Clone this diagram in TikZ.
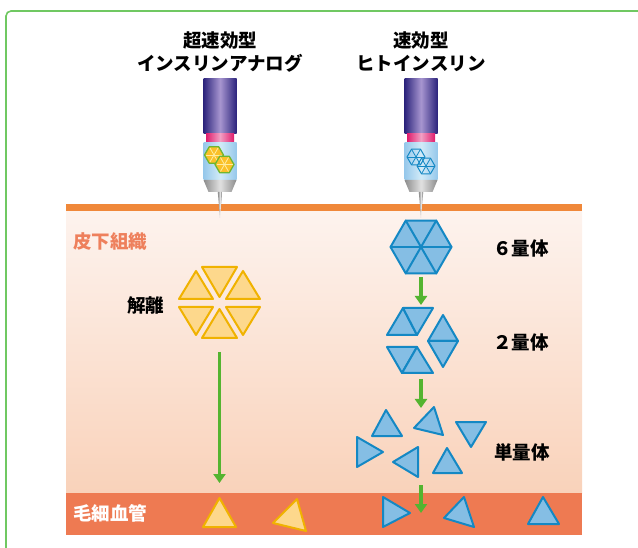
\documentclass[tikz,border=0pt]{standalone}
\usepackage{fontspec}
\newfontfamily\jp{Noto Sans CJK JP}
\usetikzlibrary{arrows.meta,calc}

\definecolor{frameg}{RGB}{112,200,98}
\definecolor{skintop}{RGB}{253,243,238}
\definecolor{skinbot}{RGB}{249,210,186}
\definecolor{skinline}{RGB}{240,136,58}
\definecolor{capill}{RGB}{238,122,82}
\definecolor{tissuetxt}{RGB}{238,128,92}
\definecolor{bluefill}{RGB}{133,190,228}
\definecolor{blueline}{RGB}{20,136,196}
\definecolor{yelfill}{RGB}{253,216,140}
\definecolor{yelline}{RGB}{240,178,0}
\definecolor{arrowg}{RGB}{84,180,48}
\definecolor{pendark}{RGB}{44,36,124}
\definecolor{penlight}{RGB}{168,150,208}
\definecolor{ringdark}{RGB}{224,28,108}
\definecolor{ringlight}{RGB}{242,160,196}
\definecolor{cartdark}{RGB}{150,200,235}
\definecolor{cartlight}{RGB}{210,235,248}
\definecolor{conedark}{RGB}{140,140,140}
\definecolor{conelight}{RGB}{225,225,225}
\definecolor{hexyel}{RGB}{250,192,40}
\definecolor{hexgreen}{RGB}{110,182,50}
\definecolor{hexspoke}{RGB}{255,236,160}

\tikzset{
  labeltext/.style={font=\jp\bfseries\fontsize{18.5}{23}\selectfont, inner sep=0pt},
  bluetri/.style={fill=bluefill, draw=blueline, line width=2pt, line join=round},
  yeltri/.style={fill=yelfill, draw=yelline, line width=2pt, line join=round},
  flow/.style={draw=arrowg, line width=3.6pt, -{Triangle[width=12pt,length=9pt]}},
  pen/.pic={
    % pen body
    \shade[left color=pendark, right color=pendark, middle color=penlight]
      (-16.5,79) rectangle (16.5,134);
    % coloured ring
    \shade[left color=ringdark, right color=ringdark, middle color=ringlight]
      (-14,134) rectangle (14,143);
    % cartridge
    \shade[left color=cartdark, right color=cartdark, middle color=cartlight]
      (-16.5,143) rectangle (16.5,180);
    % cone and needle
    \shade[left color=conedark, right color=conedark, middle color=conelight]
      (-16.5,180) -- (16.5,180) -- (11.5,192) -- (-11.5,192) -- cycle;
    \shade[left color=conedark, right color=conedark!70!black, middle color=conelight]
      (-2.2,192) -- (2.2,192) -- (0,218) -- cycle;
  }
}

\begin{document}
\begin{tikzpicture}[x=1pt,y=-1pt]
\path[use as bounding box] (0,0) rectangle (638,548);

% outer frame
\draw[frameg, line width=1.6pt, rounded corners=5pt] (6,548) -- (6,11) -- (638,11);

% subcutaneous tissue, skin surface and capillary
\shade[top color=skintop, bottom color=skinbot] (66,211) rectangle (582,493);
\fill[skinline] (66,204) rectangle (582,211);
\fill[capill] (66,493) rectangle (582,535);

% pens
\pic at (220,0) {pen};
\pic at (421,0) {pen};

% hexamers inside the left cartridge
\foreach \cx/\cy in {214/155, 224.5/164.5}{
  \filldraw[fill=hexyel, draw=hexgreen, line width=1.3pt, line join=round]
    (\cx+9.5,\cy) \foreach \a in {60,120,...,300}{ -- ++(\a+60:9.5)} -- cycle;
  \foreach \a in {0,60,...,300}{
    \draw[hexspoke, line width=0.8pt] (\cx,\cy) -- ++(\a:8);
  }
}
% hexamers inside the right cartridge
\foreach \cx/\cy in {416/157, 426/166}{
  \draw[blueline, line width=1pt, line join=round]
    (\cx+9,\cy) \foreach \a in {60,120,...,300}{ -- ++(\a+60:9)} -- cycle;
  \foreach \a in {0,60,...,300}{
    \draw[blueline, line width=0.8pt] (\cx,\cy) -- ++(\a:9);
  }
}

% titles
\node[labeltext, align=center] (titleA) at (220,52) {超速効型\\インスリンアナログ};
\node[labeltext, align=center] (titleB) at (421,52) {速効型\\ヒトインスリン};

% region labels
\node[labeltext, text=tissuetxt, anchor=west] (tissue) at (73,242) {皮下組織};
\node[labeltext, text=white, anchor=west] (vessel) at (73,513) {毛細血管};
\node[labeltext, anchor=west] (dissoc) at (127,305) {解離};
\node[labeltext, anchor=west] (hexa) at (493,248) {６量体};
\node[labeltext, anchor=west] (dimer) at (493,342) {２量体};
\node[labeltext, anchor=west] (mono) at (494,452) {単量体};

% dissociated analogue hexamer
\filldraw[yeltri] (202,267) -- (237,267) -- (219.5,297) -- cycle;
\filldraw[yeltri] (179,299) -- (196,271) -- (213,299) -- cycle;
\filldraw[yeltri] (226,299) -- (243,271) -- (260,299) -- cycle;
\filldraw[yeltri] (179,307) -- (213,307) -- (196,335) -- cycle;
\filldraw[yeltri] (226,307) -- (260,307) -- (243,335) -- cycle;
\filldraw[yeltri] (202,338) -- (219.5,309) -- (237,338) -- cycle;

% analogue monomers in the capillary
\filldraw[yeltri] (203,527) -- (219.5,498) -- (236,527) -- cycle;
\filldraw[yeltri] (273,523) -- (297,499) -- (306,531) -- cycle;

% human insulin hexamer
\coordinate (hexc) at (421,247);
\filldraw[bluetri] ($(hexc)+(0:30.5)$) \foreach \a in {60,120,...,300}{ -- ($(hexc)+(\a:30.5)$)} -- cycle;
\foreach \a in {0,60,...,300}{
  \draw[blueline, line width=2pt, line cap=round] (hexc) -- ($(hexc)+(\a:30.5)$);
}

% dimers
\filldraw[bluetri] (387,335) -- (403,308) -- (417,335) -- cycle;
\filldraw[bluetri] (403,308) -- (433,308) -- (417,335) -- cycle;
\filldraw[bluetri] (387,347) -- (417,347) -- (402,373) -- cycle;
\filldraw[bluetri] (417,347) -- (402,373) -- (433,373) -- cycle;
\filldraw[bluetri] (443,315) -- (428,341) -- (458,341) -- cycle;
\filldraw[bluetri] (428,341) -- (458,341) -- (443,367) -- cycle;

% monomers in the tissue
\filldraw[bluetri] (372,436) -- (386,410) -- (402,436) -- cycle;
\filldraw[bluetri] (414,428) -- (434,407) -- (443,435) -- cycle;
\filldraw[bluetri] (456,422) -- (486,422) -- (471,447) -- cycle;
\filldraw[bluetri] (357,437) -- (357,467) -- (383,452) -- cycle;
\filldraw[bluetri] (393,462) -- (418,447) -- (418,477) -- cycle;
\filldraw[bluetri] (433,473) -- (447,448) -- (462,473) -- cycle;

% monomers in the capillary
\filldraw[bluetri] (383,497) -- (383,527) -- (410,513) -- cycle;
\filldraw[bluetri] (444,518) -- (464,497) -- (474,527) -- cycle;
\filldraw[bluetri] (528,524) -- (543,497) -- (559,524) -- cycle;

% flow arrows
\coordinate (a1s) at (421,277);  \coordinate (a1e) at (421,305);
\coordinate (a2s) at (421,379);  \coordinate (a2e) at (421,408);
\coordinate (a3s) at (421,485);  \coordinate (a3e) at (421,513);
\coordinate (a4s) at (219.5,352); \coordinate (a4e) at (219.5,483);
\draw[flow] (a1s) -- (a1e);
\draw[flow] (a2s) -- (a2e);
\draw[flow] (a3s) -- (a3e);
\draw[flow] (a4s) -- (a4e);
\end{tikzpicture}
\end{document}
